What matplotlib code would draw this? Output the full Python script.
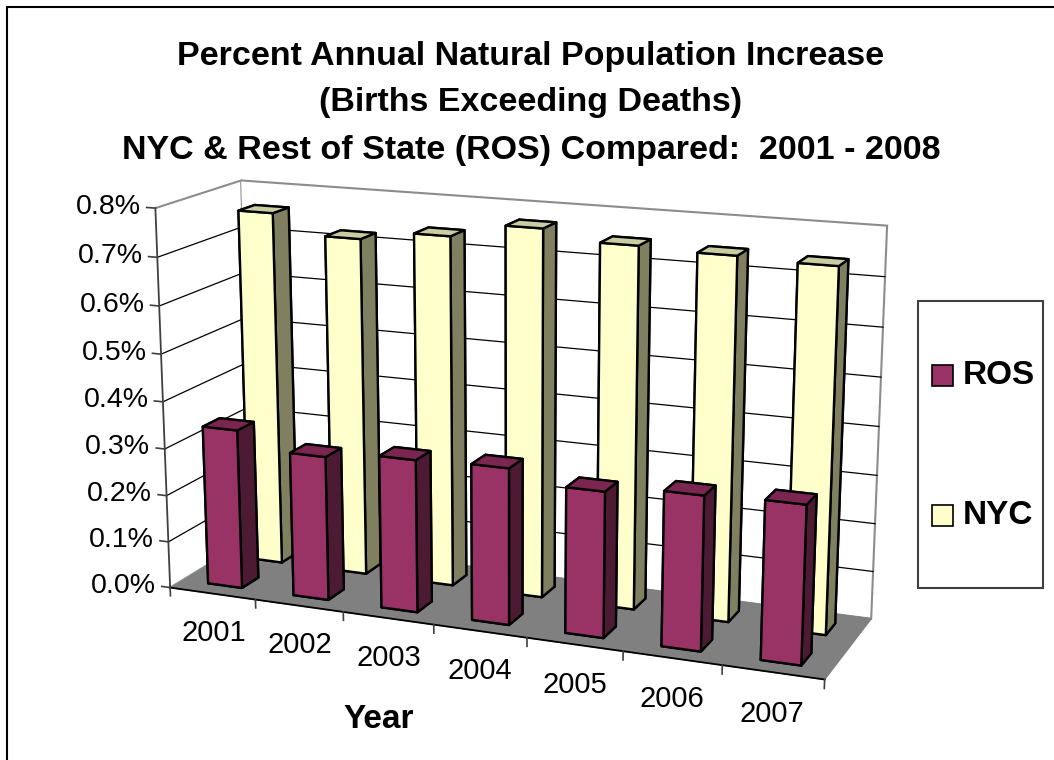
import matplotlib.pyplot as plt
import numpy as np
from matplotlib.patches import Rectangle
from mpl_toolkits.mplot3d import proj3d

plt.rcParams['font.family'] = ['Liberation Sans', 'DejaVu Sans']

# Natural increase (births minus deaths) as a percent of population
years = ['2001', '2002', '2003', '2004', '2005', '2006', '2007']
ros_pct = [0.34, 0.305, 0.32, 0.325, 0.30, 0.315, 0.32]
nyc_pct = [0.76, 0.72, 0.74, 0.77, 0.75, 0.745, 0.74]
pct_ticks = [0.0, 0.1, 0.2, 0.3, 0.4, 0.5, 0.6, 0.7, 0.8]
series_names = ['ROS', 'NYC']

title_lines = [
    'Percent Annual Natural Population Increase',
    '(Births Exceeding Deaths)',
    'NYC & Rest of State (ROS) Compared:  2001 - 2008',
]

# face order used by bar3d: bottom, top, front, back, left, right
ROS_FACES = ['#4d1a33', '#7a2650', '#993366', '#993366', '#993366', '#4d1a33']
NYC_FACES = ['#808060', '#cccca3', '#ffffcc', '#ffffcc', '#ffffcc', '#808060']

W, H = 1054, 760


def fx(px):
    return px / W


def fy(py):
    return 1 - py / H


fig = plt.figure(figsize=(W / 100, H / 100), dpi=100)
ax = fig.add_axes([0.0496, 0.024, 0.86, 0.84], projection='3d')
ax.set_proj_type('persp', focal_length=0.7)
ax.view_init(elev=15, azim=-68)

n = len(years)
depth = 2.0
zmax = pct_ticks[-1]
ax.set_xlim(0, n, view_margin=0)
ax.set_ylim(0, depth, view_margin=0)
ax.set_zlim(0, zmax, view_margin=0)
ax.set_box_aspect((n, 1.8, 4.0), zoom=1.255)

# walls and floor
for axis in (ax.xaxis, ax.yaxis):
    axis.set_pane_color('white')
    axis.pane.set_edgecolor('#8c8c8c')
    axis.pane.set_linewidth(1.5)
ax.zaxis.set_pane_color('#808080')
ax.zaxis.pane.set_edgecolor('#808080')

ax.set_xticks([])
ax.set_yticks([])
ax.set_zticks([])
ax.grid(False)
for axis in (ax.xaxis, ax.yaxis, ax.zaxis):
    axis.line.set_color((0, 0, 0, 0))

# horizontal gridlines on the side and back walls
for v in pct_ticks[1:-1]:
    ax.plot([0, 0], [0, depth], [v, v], color='black', lw=0.9)
    ax.plot([0, n], [depth, depth], [v, v], color='black', lw=0.9)

# value axis and category axis lines with their ticks
ax.plot([0, 0], [0, 0], [0, zmax], color='#404040', lw=1.3)
for v in pct_ticks:
    ax.plot([0, -0.1], [0, 0], [v, v], color='#404040', lw=1.2)
ax.plot([0, n], [0, 0], [0, 0], color='black', lw=1.3)
for i in range(n + 1):
    ax.plot([i, i], [0, 0], [0, -0.018], color='#404040', lw=1.2)

bar_w = 0.4
xs = np.arange(n) + (1 - bar_w) / 2


def draw_row(values, row, faces):
    y0 = row + (1 - bar_w) / 2
    ax.bar3d(xs, np.full(n, y0), np.zeros(n), bar_w, bar_w, values,
             color=faces * n, shade=False, edgecolor='black', linewidth=1.7)


draw_row(nyc_pct, 1, NYC_FACES)
draw_row(ros_pct, 0, ROS_FACES)

# the 3D axes clips to a square box; the chart is wider than that
for artist in ax.collections + ax.lines:
    artist.set_clip_on(False)

# tick labels are placed in figure space at the projected 3D positions
fig.canvas.draw()
M = ax.get_proj()


def to_fig(x, y, z):
    px, py, _ = proj3d.proj_transform(x, y, z, M)
    disp = ax.transData.transform((px, py))
    return fig.transFigure.inverted().transform(disp)


for v in pct_ticks:
    lx, ly = to_fig(-0.17, 0, v)
    fig.text(lx, ly, f'{v:.1f}%', ha='right', va='center', fontsize=20.5)
for i, yr in enumerate(years):
    lx, ly = to_fig(i + 0.5, 0, -0.055)
    fig.text(lx, ly, yr, ha='center', va='top', fontsize=21)

# titles
title_y = [57, 102, 150]
for line, y in zip(title_lines, title_y):
    fig.text(fx(531), fy(y), line, ha='center', va='center',
             fontsize=24.5, fontweight='bold')
fig.text(fx(379), fy(720), 'Year', ha='center', va='center',
         fontsize=24, fontweight='bold')

# legend box
fig.add_artist(Rectangle((fx(918), fy(588)), fx(1043) - fx(918), fy(301) - fy(588),
                         transform=fig.transFigure, fill=False,
                         edgecolor='#404040', lw=1.5))
legend_y = [375, 515]
legend_faces = [ROS_FACES[2], NYC_FACES[2]]
for name, y, fc in zip(series_names, legend_y, legend_faces):
    fig.add_artist(Rectangle((fx(932), fy(y + 10.5)), fx(953) - fx(932), fy(y - 10.5) - fy(y + 10.5),
                             transform=fig.transFigure, facecolor=fc,
                             edgecolor='black', lw=1.2))
    fig.text(fx(963), fy(y), name, ha='left', va='center',
             fontsize=24, fontweight='bold')

# chart border
fig.add_artist(Rectangle((fx(7), -0.1), 1.2, fy(7) + 0.1,
                         transform=fig.transFigure, fill=False,
                         edgecolor='black', lw=1.5, clip_on=False))

fig.savefig('out.png', dpi=100)
